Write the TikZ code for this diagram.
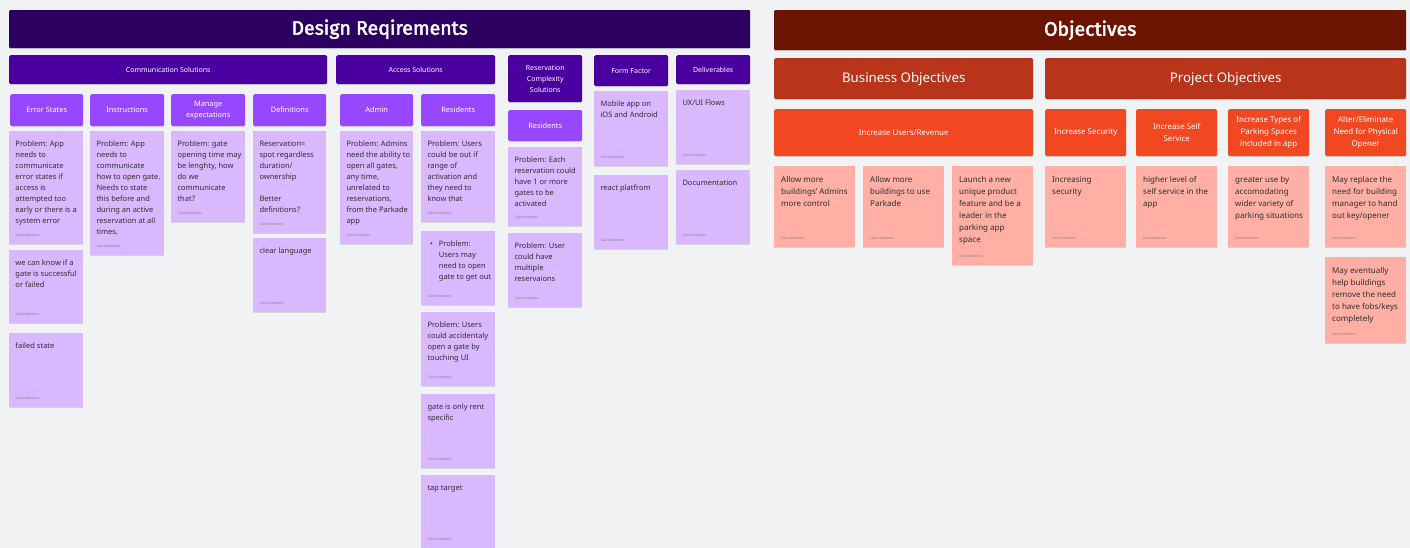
\documentclass[tikz,border=0pt]{standalone}
\usepackage{fontspec}
\setmainfont{Noto Sans}
\newfontfamily\titlefont{Fira Sans}[AutoFakeBold=2.5]
\usetikzlibrary{shadows}

\definecolor{boardbg}{HTML}{F1F2F4}
\definecolor{deeppurple}{HTML}{2C0060}
\definecolor{catpurple}{HTML}{4A00A0}
\definecolor{subpurple}{HTML}{9747FF}
\definecolor{lavender}{HTML}{D9B8FF}
\definecolor{deepred}{HTML}{6B1400}
\definecolor{rust}{HTML}{B8341B}
\definecolor{flame}{HTML}{F24822}
\definecolor{salmon}{HTML}{FFAFA3}
\definecolor{ink}{HTML}{2E2E2E}
\definecolor{faint}{HTML}{808080}

% sticky note: name, x, y, width, height, fill, text style, text
\newcommand\padnote[8]{%
  \node[sticky, fill=#6, minimum width=#4pt, minimum height=#5pt] (#1) at (#2,#3) {};
  \node[#7] (#1-txt) at (#1.north west) {\strut#8};
  \node[author] (#1-by) at ([xshift=6.5pt,yshift=8pt]#1.south west) {Claire Brothers};
}

\begin{document}
\begin{tikzpicture}[x=1pt,y=-1pt,
  box/.style={anchor=north west, inner sep=0pt, align=center, text=white},
  banner/.style={box, rounded corners=1pt, font=\titlefont\bfseries\fontsize{19.5}{22}\selectfont,
    drop shadow={opacity=0.25, shadow xshift=0pt, shadow yshift=-1pt}},
  cathdr/.style={box, fill=catpurple, rounded corners=1.5pt, font=\fontsize{7}{11}\selectfont,
    drop shadow={opacity=0.2, shadow xshift=0pt, shadow yshift=-1pt}},
  subhdr/.style={box, fill=subpurple, rounded corners=1.5pt, font=\fontsize{7.4}{11}\selectfont,
    drop shadow={opacity=0.2, shadow xshift=0pt, shadow yshift=-1pt}},
  bighdr/.style={box, fill=rust, rounded corners=1.5pt, font=\fontsize{13.3}{15}\selectfont,
    drop shadow={opacity=0.2, shadow xshift=0pt, shadow yshift=-1pt}},
  goalhdr/.style={box, fill=flame, rounded corners=1.5pt, font=\fontsize{7.9}{12}\selectfont,
    drop shadow={opacity=0.2, shadow xshift=0pt, shadow yshift=-1pt}},
  sticky/.style={anchor=north west, inner sep=0pt, draw=none,
    drop shadow={opacity=0.25, shadow xshift=0pt, shadow yshift=-1pt}},
  vtext/.style={anchor=north west, inner sep=0pt, align=left, text=ink,
    font=\fontsize{7.5}{11}\selectfont, xshift=6.3pt, yshift=-7.3pt},
  stext/.style={anchor=north west, inner sep=0pt, align=left, text=ink,
    font=\fontsize{8}{12}\selectfont, xshift=7pt, yshift=-7.9pt},
  author/.style={anchor=base west, inner sep=0pt, text=faint, font=\fontsize{3.4}{4}\selectfont},
]
\fill[boardbg] (0,0) rectangle (1410,548);
\useasboundingbox (0,0) rectangle (1410,548);

% ---------------- Design requirements ----------------
\node[banner, fill=deeppurple, minimum width=741pt, minimum height=38pt] (design) at (9,10) {Design Reqirements};

\node[cathdr, minimum width=318pt, minimum height=29pt] (comm) at (9,55) {Communication Solutions};
\node[cathdr, minimum width=159pt, minimum height=29pt] (access) at (336,55) {Access Solutions};
\node[cathdr, minimum width=74pt, minimum height=47pt] (rescx) at (508,55) {Reservation\\Complexity\\Solutions};
\node[cathdr, minimum width=74pt, minimum height=31pt] (form) at (594,55) {Form Factor};
\node[cathdr, minimum width=74pt, minimum height=29pt] (deliv) at (676,55) {Deliverables};

\node[subhdr, minimum width=73pt, minimum height=32pt] (errors) at (10,94) {Error States};
\node[subhdr, minimum width=74pt, minimum height=32pt] (instr) at (90,94) {Instructions};
\node[subhdr, minimum width=74pt, minimum height=32pt] (manage) at (171,94) {Manage\\expectations};
\node[subhdr, minimum width=73pt, minimum height=32pt] (defs) at (253,94) {Definitions};
\node[subhdr, minimum width=73pt, minimum height=32pt] (admin) at (340,94) {Admin};
\node[subhdr, minimum width=74pt, minimum height=32pt] (resid) at (421,94) {Residents};
\node[subhdr, minimum width=74pt, minimum height=31pt] (residb) at (508,110) {Residents};

\padnote{es1}{9}{131}{74}{113}{lavender}{vtext}{Problem: App\\needs to\\communicate\\error states if\\access is\\attempted too\\early or there is a\\system error}
\padnote{es2}{9}{250}{74}{73}{lavender}{vtext}{we can know if a\\gate is successful\\or failed}
\padnote{es3}{9}{333}{74}{74}{lavender}{vtext}{failed state}

\padnote{in1}{90}{131}{74}{124}{lavender}{vtext}{Problem: App\\needs to\\communicate\\how to open gate.\\Needs to state\\this before and\\during an active\\reservation at all\\times.}

\padnote{me1}{171}{131}{74}{91}{lavender}{vtext}{Problem: gate\\opening time may\\be lenghty, how\\do we\\communicate\\that?}

\padnote{df1}{253}{131}{73}{102}{lavender}{vtext}{Reservation=\\spot regardless\\duration/\\ownership\\[11pt]Better\\definitions?}
\padnote{df2}{253}{238}{73}{74}{lavender}{vtext}{clear language}

\padnote{ad1}{340}{131}{73}{113}{lavender}{vtext}{Problem: Admins\\need the ability to\\open all gates,\\any time,\\unrelated to\\reservations,\\from the Parkade\\app}

\padnote{rs1}{421}{131}{74}{91}{lavender}{vtext}{Problem: Users\\could be out if\\range of\\activation and\\they need to\\know that}
\padnote{rs2}{421}{231}{74}{74}{lavender}{vtext}{\makebox[11.4pt][l]{\hspace{2.7pt}\textbullet}Problem:\\\hspace*{11.4pt}Users may\\\hspace*{11.4pt}need to open\\\hspace*{11.4pt}gate to get out}
\padnote{rs3}{421}{312}{74}{74}{lavender}{vtext}{Problem: Users\\could accidentaly\\open a gate by\\touching UI}
\padnote{rs4}{421}{394}{74}{74}{lavender}{vtext}{gate is only rent\\specific}
\padnote{rs5}{421}{475}{74}{73}{lavender}{vtext}{tap target}

\padnote{rc1}{508}{147}{74}{79}{lavender}{vtext}{Problem: Each\\reservation could\\have 1 or more\\gates to be\\activated}
\padnote{rc2}{508}{233}{74}{74}{lavender}{vtext}{Problem: User\\could have\\multiple\\reservaions}

\padnote{fm1}{594}{91}{74}{75}{lavender}{vtext}{Mobile app on\\iOS and Android}
\padnote{fm2}{594}{175}{74}{74}{lavender}{vtext}{react platfrom}

\padnote{dv1}{676}{90}{74}{74}{lavender}{vtext}{UX/UI Flows}
\padnote{dv2}{676}{170}{74}{74}{lavender}{vtext}{Documentation}

% ---------------- Objectives ----------------
\node[banner, fill=deepred, minimum width=632pt, minimum height=40pt] (objectives) at (774,10) {Objectives};

\node[bighdr, minimum width=259pt, minimum height=41pt] (business) at (774,58) {Business Objectives};
\node[bighdr, minimum width=361pt, minimum height=41pt] (project) at (1045,58) {Project Objectives};

\node[goalhdr, minimum width=259pt, minimum height=47pt] (users) at (774,109) {Increase Users/Revenue};
\node[goalhdr, minimum width=81pt, minimum height=47pt] (security) at (1045,109) {Increase Security};
\node[goalhdr, minimum width=81pt, minimum height=47pt] (selfserv) at (1136,109) {Increase Self\\Service};
\node[goalhdr, minimum width=81pt, minimum height=47pt] (types) at (1228,109) {Increase Types of\\Parking Spaces\\included in app};
\node[goalhdr, minimum width=81pt, minimum height=47pt] (opener) at (1325,109) {Alter/Eliminate\\Need for Physical\\Opener};

\padnote{ob1}{774}{166}{81}{81}{salmon}{stext}{Allow more\\buildings' Admins\\more control}
\padnote{ob2}{863}{166}{81}{81}{salmon}{stext}{Allow more\\buildings to use\\Parkade}
\padnote{ob3}{952}{166}{81}{99}{salmon}{stext}{Launch a new\\unique product\\feature and be a\\leader in the\\parking app\\space}
\padnote{ob4}{1045}{166}{81}{81}{salmon}{stext}{Increasing\\security}
\padnote{ob5}{1136}{166}{81}{81}{salmon}{stext}{higher level of\\self service in the\\app}
\padnote{ob6}{1228}{166}{81}{81}{salmon}{stext}{greater use by\\accomodating\\wider variety of\\parking situations}
\padnote{ob7}{1325}{166}{81}{81}{salmon}{stext}{May replace the\\need for building\\manager to hand\\out key/opener}
\padnote{ob8}{1325}{257}{81}{86}{salmon}{stext}{May eventually\\help buildings\\remove the need\\to have fobs/keys\\completely}
\end{tikzpicture}
\end{document}
